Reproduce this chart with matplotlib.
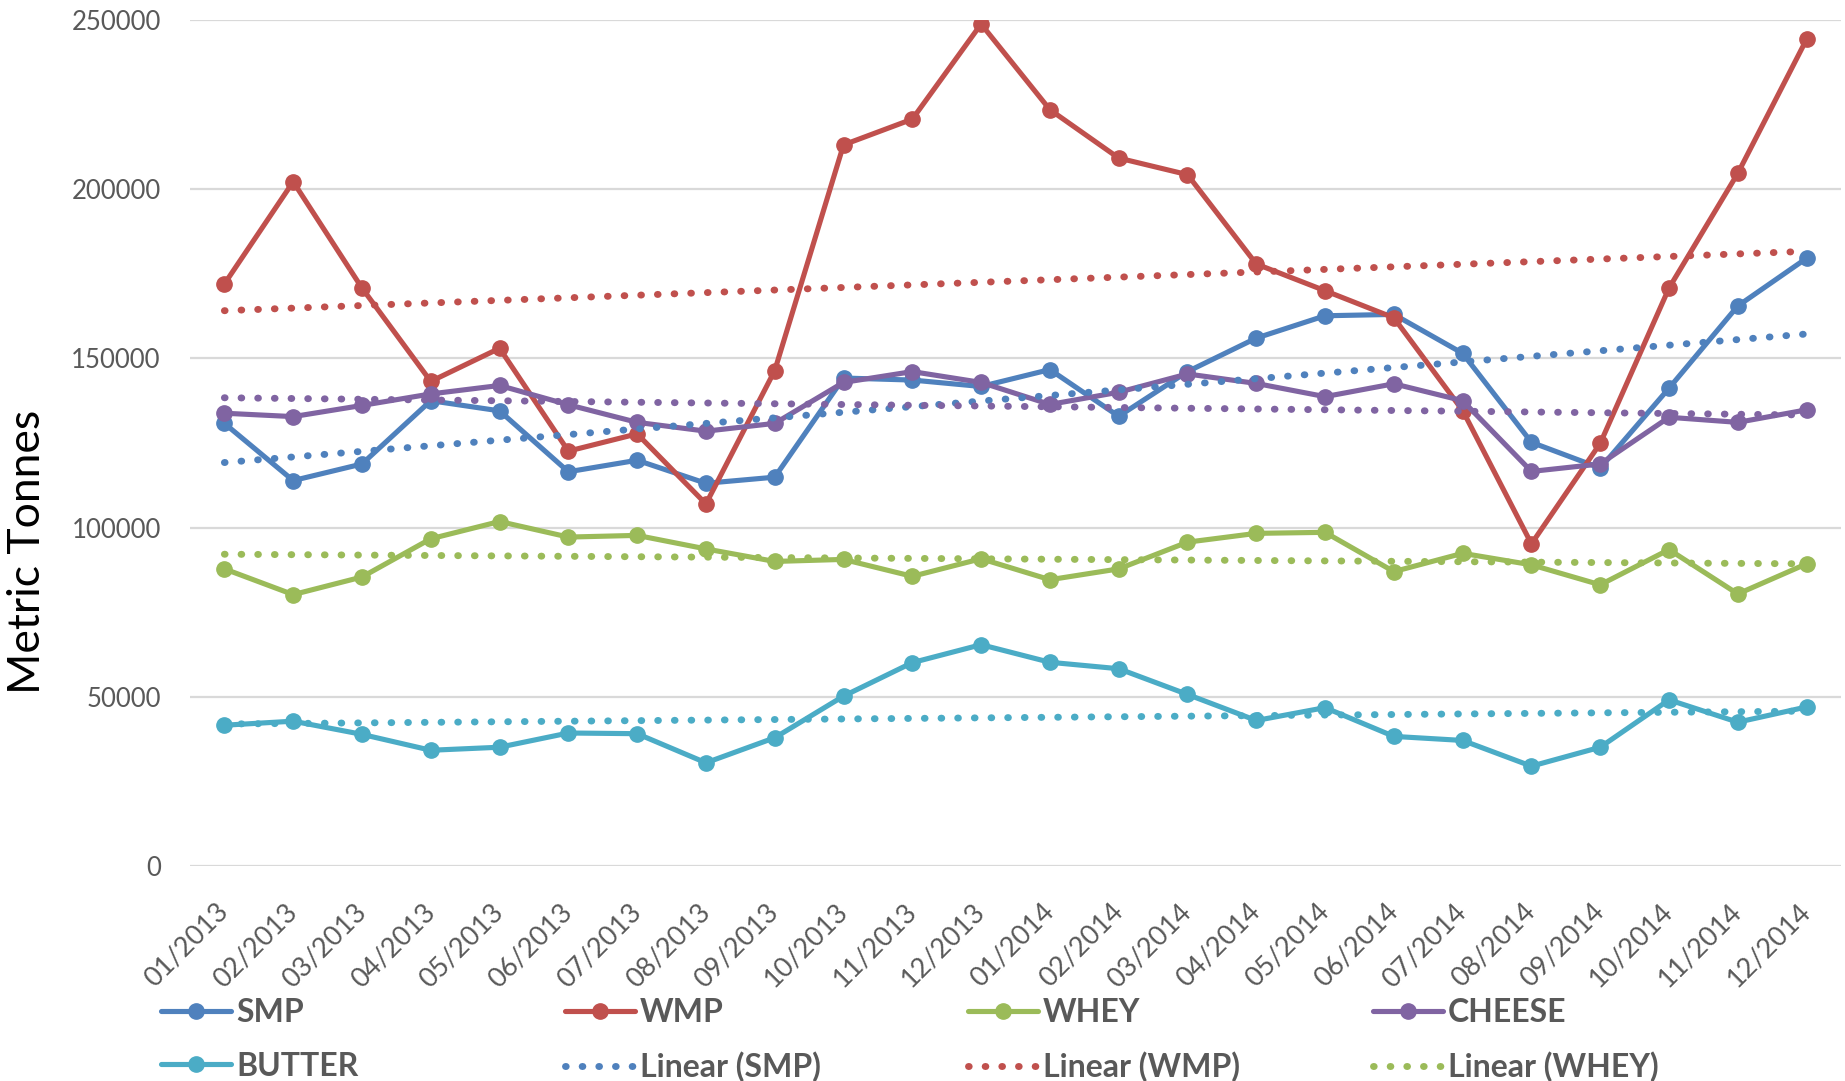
import numpy as np
import matplotlib
matplotlib.use("Agg")
import matplotlib.pyplot as plt

# -----------------------------
# Data
# -----------------------------
months = ["01/2013", "02/2013", "03/2013", "04/2013", "05/2013", "06/2013",
          "07/2013", "08/2013", "09/2013", "10/2013", "11/2013", "12/2013",
          "01/2014", "02/2014", "03/2014", "04/2014", "05/2014", "06/2014",
          "07/2014", "08/2014", "09/2014", "10/2014", "11/2014", "12/2014"]

smp = [130800, 113900, 118800, 137500, 134500, 116500, 119900, 113100,
       114900, 144200, 143600, 141700, 146700, 132900, 146100, 156000,
       162600, 163000, 151500, 125200, 117600, 141200, 165500, 179600]

wmp = [172000, 202200, 170800, 143200, 153000, 122600, 127700, 107000,
       146400, 213100, 220700, 248800, 223500, 209200, 204300, 177900,
       170000, 162000, 134600, 95200, 124900, 170800, 204700, 244300]

whey = [87800, 80200, 85400, 96700, 101800, 97200, 97700, 93700,
        90000, 90600, 85600, 90800, 84600, 87800, 95700, 98300,
        98600, 87000, 92400, 89000, 83100, 93500, 80400, 89300]

cheese = [133800, 132800, 136100, 139500, 142000, 136300, 131100, 128500,
          130800, 142900, 146100, 142900, 136400, 140000, 145400, 142600,
          138700, 142500, 137500, 116600, 118800, 132600, 131100, 134800]

butter = [41600, 42800, 38900, 34200, 35100, 39300, 39100, 30500,
          37900, 50200, 60100, 65400, 60200, 58300, 50700, 43000,
          46800, 38300, 37100, 29500, 35100, 49100, 42500, 47000]

series_names = ["SMP", "WMP", "WHEY", "CHEESE", "BUTTER"]
series_values = [smp, wmp, whey, cheese, butter]
series_colors = ["#4F81BD", "#C0504D", "#9BBB59", "#8064A2", "#4BACC6"]

yticks = [0, 50000, 100000, 150000, 200000, 250000]

# -----------------------------
# Figure
# -----------------------------
W, H = 1845, 1081
fig = plt.figure(figsize=(W / 100, H / 100), dpi=100)
fig.patch.set_facecolor("white")
ax = fig.add_axes([190 / W, 1 - 866 / H, (1841 - 190) / W, (866 - 20) / H])

font = "Lato"
grey = "#595959"
x = np.arange(len(months))

line_handles = []
trend_handles = []
for name, vals, col in zip(series_names, series_values, series_colors):
    h, = ax.plot(x, vals, color=col, linewidth=3.7, marker="o",
                 markersize=11, label=name, solid_capstyle="round",
                 solid_joinstyle="round")
    line_handles.append(h)

# Linear trendlines (least squares, as Excel does)
for name, vals, col in zip(series_names, series_values, series_colors):
    slope, icpt = np.polyfit(x, vals, 1)
    t, = ax.plot(x, slope * x + icpt, color=col, linewidth=5,
                 linestyle=(0, (0.1, 2.3)), dash_capstyle="round",
                 label="Linear (%s)" % name)
    trend_handles.append(t)

ax.set_xlim(-0.5, len(months) - 0.5)
ax.set_ylim(0, 250000)
ax.set_yticks(yticks)
ax.set_yticklabels([str(v) for v in yticks], fontsize=18.5, color=grey,
                   family=font)
ax.set_xticks(x)
ax.set_xticklabels(months, rotation=45, ha="right", va="center",
                   rotation_mode="anchor", fontsize=19.5, color=grey,
                   family=font)
ax.tick_params(axis="y", length=0, pad=21)
ax.tick_params(axis="x", length=0, pad=30)
ax.yaxis.grid(True, color="#D9D9D9", linewidth=1.6)
ax.set_axisbelow(True)
for s in ax.spines.values():
    s.set_visible(False)

fig.text(28 / W, 0.4894, "Metric Tonnes", rotation=90, ha="center",
         va="center", fontsize=32, color="black", family=font)

# -----------------------------
# Legend: 4 columns, Excel row order, bottom row cut by the figure edge
# -----------------------------
columns = [
    [line_handles[0], line_handles[4]],
    [line_handles[1], trend_handles[0]],
    [line_handles[2], trend_handles[1]],
    [line_handles[3], trend_handles[2]],
]
col_x = [161, 565, 968, 1373]
for hs, cx in zip(columns, col_x):
    leg = fig.legend(handles=hs, labels=[h.get_label() for h in hs],
                     loc="upper left", bbox_to_anchor=(cx / W, 1 - 998 / H),
                     frameon=False, borderpad=0, borderaxespad=0,
                     handlelength=2.2, handletextpad=0.15, labelspacing=0.77,
                     prop={"family": font, "weight": "bold", "size": 23})
    for txt in leg.get_texts():
        txt.set_color(grey)

fig.savefig("out.png", dpi=100, facecolor="white")
